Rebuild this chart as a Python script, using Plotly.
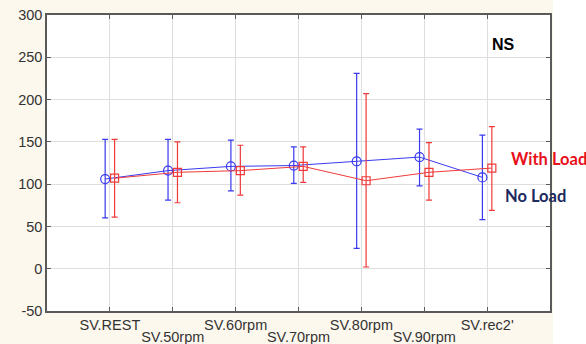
import plotly.graph_objects as go

categories = ["SV.REST", "SV.50rpm", "SV.60rpm", "SV.70rpm", "SV.80rpm", "SV.90rpm", "SV.rec2'"]
no_load_mean = [106, 116, 121, 122, 127, 132, 108]
no_load_upper = [153, 153, 152, 144, 231, 165, 158]
no_load_lower = [60, 81, 92, 101, 24, 98, 58]
with_load_mean = [107, 114, 116, 121, 104, 114, 119]
with_load_upper = [153, 150, 146, 144, 207, 149, 168]
with_load_lower = [61, 78, 87, 102, 2, 81, 69]
y_ticks = [-50, 0, 50, 100, 150, 200, 250, 300]
y_tick_labels = ["-50", "0", "50", "100", "150", "200", "250", "300"]

BLUE = "#3a3af0"
RED = "#f03a3a"
offset = 0.075

idx = list(range(len(categories)))
odd_idx = [i for i in idx if i % 2 == 1]

fig = go.Figure()
fig.add_trace(go.Scatter(
    x=[i - offset for i in idx], y=no_load_mean, mode="lines+markers",
    line=dict(color=BLUE, width=1),
    marker=dict(symbol="circle-open", size=9, color=BLUE, line=dict(width=1.2)),
    error_y=dict(type="data", symmetric=False,
                 array=[u - m for u, m in zip(no_load_upper, no_load_mean)],
                 arrayminus=[m - l for m, l in zip(no_load_mean, no_load_lower)],
                 color=BLUE, thickness=1.2, width=3),
    name="No Load", showlegend=False))
fig.add_trace(go.Scatter(
    x=[i + offset for i in idx], y=with_load_mean, mode="lines+markers",
    line=dict(color=RED, width=1),
    marker=dict(symbol="square-open", size=8, color=RED, line=dict(width=1.2)),
    error_y=dict(type="data", symmetric=False,
                 array=[u - m for u, m in zip(with_load_upper, with_load_mean)],
                 arrayminus=[m - l for m, l in zip(with_load_mean, with_load_lower)],
                 color=RED, thickness=1.2, width=3),
    name="With Load", showlegend=False))
# invisible helper trace so the second (staggered-label) x axis is drawn
fig.add_trace(go.Scatter(
    x=odd_idx, y=[no_load_mean[i] for i in odd_idx], xaxis="x2", yaxis="y",
    mode="markers", marker=dict(opacity=0), hoverinfo="skip", showlegend=False))

tick_font = dict(family="Liberation Sans, Arial", size=14.5, color="#333333")
axis_common = dict(showline=True, linecolor="#5a5a5a", linewidth=1.5, mirror="ticks",
                   ticks="inside", ticklen=4, tickcolor="#5a5a5a",
                   gridcolor="#dedede", gridwidth=1, zeroline=False,
                   tickfont=tick_font, automargin=False)

fig.update_layout(
    xaxis=dict(range=[-1, 7], tickmode="array", tickvals=idx,
               ticktext=[categories[i] if i % 2 == 0 else "" for i in idx],
               **axis_common),
    xaxis2=dict(range=[-1, 7], overlaying="x", matches="x", anchor="y", side="bottom",
                tickmode="array", tickvals=odd_idx, ticktext=[categories[i] for i in odd_idx],
                showgrid=False, showline=False, ticks="", zeroline=False,
                tickfont=tick_font, ticklabelstandoff=15, automargin=False),
    yaxis=dict(range=[-50, 300], tickmode="array", tickvals=y_ticks, ticktext=y_tick_labels,
               **axis_common),
)

# white strip at the right edge of the picture (outside the cream background)
fig.add_shape(type="rect", xref="paper", yref="paper", x0=1.006, x1=1.08, y0=-0.2, y1=1.2,
              fillcolor="#ffffff", line=dict(width=0), layer="below")

fig.add_annotation(text="<b>NS</b>", xref="paper", yref="paper", x=0.934, y=0.936,
                   showarrow=False, font=dict(family="Liberation Sans, Arial", size=16, color="#000000"))
fig.add_annotation(text="<b>With Load</b>", xref="paper", yref="paper", x=0.918, y=0.514,
                   xanchor="left", showarrow=False,
                   font=dict(family="Lato, Open Sans", size=16.5, color="#e8101a"))
fig.add_annotation(text="<b>No Load</b>", xref="paper", yref="paper", x=0.907, y=0.389,
                   xanchor="left", showarrow=False,
                   font=dict(family="Lato, Open Sans", size=16.5, color="#1c2a5e"))

fig.update_layout(
    width=586, height=344,
    margin=dict(l=47, r=36, t=15, b=33),
    paper_bgcolor="#fdf8ee", plot_bgcolor="#ffffff",
    font=dict(family="Liberation Sans, Arial"),
)

fig.write_html("out.html")
